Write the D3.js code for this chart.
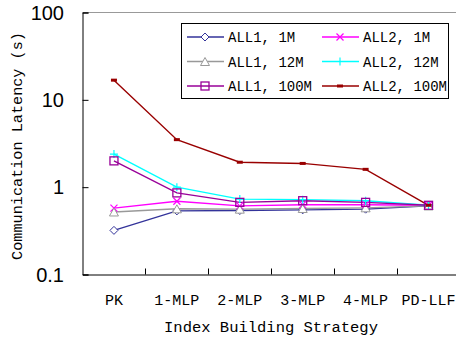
<!DOCTYPE html>
<html><head><meta charset="utf-8">
<script src="https://cdn.jsdelivr.net/npm/d3@7"></script>
<style>body{margin:0;background:#fff}svg{display:block}</style>
</head><body>
<svg id="c" width="456" height="340"></svg>
<script>
const categories = ["PK","1-MLP","2-MLP","3-MLP","4-MLP","PD-LLF"];
const seriesNames = ["ALL1, 1M","ALL2, 1M","ALL1, 12M","ALL2, 12M","ALL1, 100M","ALL2, 100M"];
const all1_1M   = [0.32, 0.535, 0.54, 0.55, 0.56, 0.61];
const all2_1M   = [0.575, 0.69, 0.61, 0.63, 0.63, 0.62];
const all1_12M  = [0.52, 0.565, 0.56, 0.57, 0.58, 0.61];
const all2_12M  = [2.39, 1.0, 0.73, 0.72, 0.70, 0.62];
const all1_100M = [2.0, 0.86, 0.67, 0.70, 0.67, 0.62];
const all2_100M = [16.8, 3.5, 1.93, 1.87, 1.6, 0.62];
const yTicks = [0.1, 1, 10, 100];
const yTickLabels = ["0.1","1","10","100"];

const series = [
  {name: seriesNames[0], values: all1_1M,   color: "#33339a", marker: "diamond"},
  {name: seriesNames[1], values: all2_1M,   color: "#ff00ff", marker: "x"},
  {name: seriesNames[2], values: all1_12M,  color: "#999999", marker: "triangle"},
  {name: seriesNames[3], values: all2_12M,  color: "#00ffff", marker: "plus"},
  {name: seriesNames[4], values: all1_100M, color: "#990099", marker: "square"},
  {name: seriesNames[5], values: all2_100M, color: "#990000", marker: "dash"}
];

const svg = d3.select("#c");
const L = 82.5, R = 460, T = 12.5, B = 274.5;
const x = d3.scaleBand().domain(categories).range([L, R]).padding(0);
const y = d3.scaleLog().domain([0.1, 100]).range([B, T]);
const mono = "'Liberation Mono', monospace";

// top border (gray)
svg.append("line").attr("x1", L).attr("x2", 456).attr("y1", T).attr("y2", T)
  .attr("stroke", "#999").attr("stroke-width", 1);

// axes
const yAxis = d3.axisRight(y).tickValues(yTicks).tickSize(6).tickFormat("");
const gy = svg.append("g").attr("transform", `translate(${L},0)`).call(yAxis);
gy.select(".domain").attr("stroke", "#000");
gy.selectAll(".tick line").attr("stroke", "#000");

const xAxis = d3.axisTop(x).tickSize(0).tickFormat("");
const gx = svg.append("g").attr("transform", `translate(0,${B})`).call(xAxis);
gx.select(".domain").attr("stroke", "#000");
// boundary ticks between categories
const bounds = categories.slice(1).map(c => x(c));
svg.append("g").selectAll("line").data(bounds).join("line")
  .attr("x1", d => Math.round(d) + 0.5).attr("x2", d => Math.round(d) + 0.5)
  .attr("y1", B).attr("y2", B - 6).attr("stroke", "#000");

// y tick labels
svg.append("g").selectAll("text").data(yTicks).join("text")
  .attr("x", 64).attr("y", d => y(d) + 7)
  .attr("text-anchor", "end")
  .attr("font-family", "'Liberation Sans', Arial, sans-serif")
  .attr("font-size", 20)
  .text((d, i) => yTickLabels[i]);

// x tick labels
svg.append("g").selectAll("text").data(categories).join("text")
  .attr("x", d => x(d) + x.bandwidth() / 2).attr("y", 305)
  .attr("text-anchor", "middle")
  .attr("font-family", mono).attr("font-size", 15)
  .text(d => d);

// axis titles
svg.append("text").attr("x", 271).attr("y", 332).attr("text-anchor", "middle")
  .attr("font-family", mono).attr("font-size", 15.5).text("Index Building Strategy");
svg.append("text").attr("transform", "translate(22,146) rotate(-90)")
  .attr("text-anchor", "middle")
  .attr("font-family", mono).attr("font-size", 15.2).text("Communication Latency (s)");

function drawMarker(g, type, cx, cy, color) {
  const s = 4;
  if (type === "diamond") {
    g.append("path").attr("d", `M${cx},${cy-s}L${cx+s},${cy}L${cx},${cy+s}L${cx-s},${cy}Z`)
      .attr("fill", "#fff").attr("stroke", color).attr("stroke-width", 1);
  } else if (type === "square") {
    g.append("rect").attr("x", cx - 4).attr("y", cy - 4).attr("width", 8).attr("height", 8)
      .attr("fill", "none").attr("stroke", color).attr("stroke-width", 1.3);
  } else if (type === "triangle") {
    g.append("path").attr("d", `M${cx},${cy-4}L${cx+4.5},${cy+4}L${cx-4.5},${cy+4}Z`)
      .attr("fill", "#fff").attr("stroke", color).attr("stroke-width", 1);
  } else if (type === "x") {
    g.append("path").attr("d", `M${cx-3.5},${cy-3.5}L${cx+3.5},${cy+3.5}M${cx-3.5},${cy+3.5}L${cx+3.5},${cy-3.5}`)
      .attr("stroke", color).attr("stroke-width", 1.2);
  } else if (type === "plus") {
    g.append("path").attr("d", `M${cx},${cy-4}L${cx},${cy+4}M${cx-4},${cy}L${cx+4},${cy}`)
      .attr("stroke", color).attr("stroke-width", 1.2);
  } else if (type === "dash") {
    g.append("rect").attr("x", cx - 3).attr("y", cy - 1.5).attr("width", 6).attr("height", 3)
      .attr("fill", color);
  }
}

const line = d3.line().x((d, i) => x(categories[i]) + x.bandwidth() / 2).y(d => y(d));
const plot = svg.append("g");
series.forEach(s => {
  plot.append("path").datum(s.values).attr("d", line)
    .attr("fill", "none").attr("stroke", s.color).attr("stroke-width", 1.4);
});
series.forEach(s => {
  const g = plot.append("g");
  s.values.forEach((v, i) => drawMarker(g, s.marker, x(categories[i]) + x.bandwidth() / 2, y(v), s.color));
});

// legend
const lg = svg.append("g");
lg.append("rect").attr("x", 181.5).attr("y", 23.5).attr("width", 267).attr("height", 75)
  .attr("fill", "#fff").attr("stroke", "#000").attr("stroke-width", 1);
series.forEach((s, i) => {
  const col = i % 2, row = Math.floor(i / 2);
  const lx = col === 0 ? 187 : 322;
  const ly = 37 + row * 24.5;
  lg.append("line").attr("x1", lx).attr("x2", lx + 37).attr("y1", ly).attr("y2", ly)
    .attr("stroke", s.color).attr("stroke-width", 1.4);
  drawMarker(lg, s.marker, lx + 18, ly, s.color);
  lg.append("text").attr("x", lx + 41).attr("y", ly + 5)
    .attr("font-family", mono).attr("font-size", 14).text(s.name);
});
</script>
</body></html>
